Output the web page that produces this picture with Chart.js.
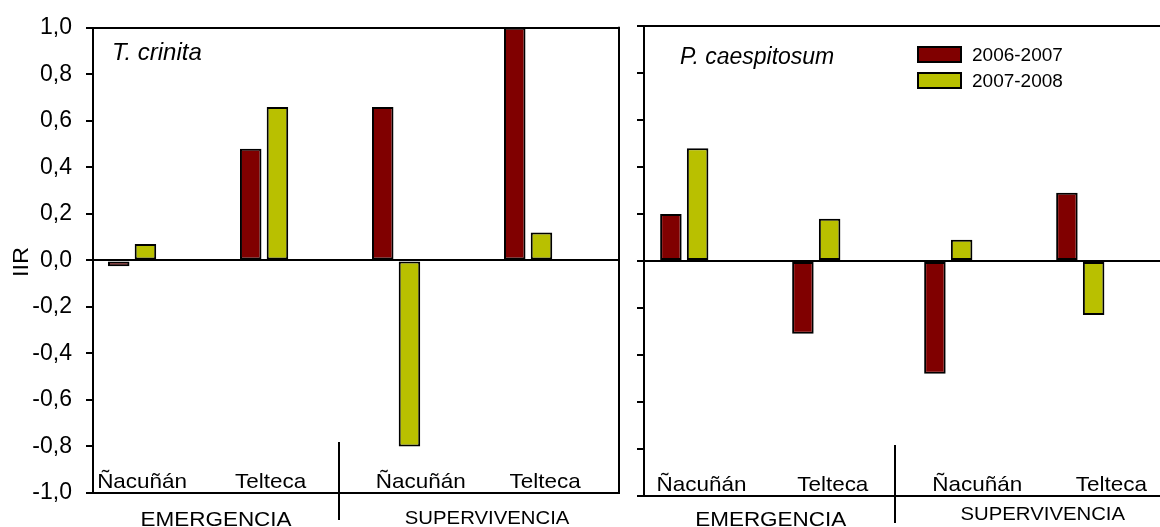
<!DOCTYPE html>
<html>
<head>
<meta charset="utf-8">
<title>IIR</title>
<script src="https://cdn.jsdelivr.net/npm/chart.js@4.4.1/dist/chart.umd.min.js"></script>
<style>
  html, body { margin: 0; padding: 0; background: #fff; overflow: hidden; }
  #wrap { position: relative; width: 1160px; height: 527px; }
  canvas { position: absolute; top: 0; }
  #left { left: 0; }
  #right { left: 630px; }
</style>
</head>
<body>
<div id="wrap">
  <canvas id="left" width="630" height="527"></canvas>
  <canvas id="right" width="530" height="527"></canvas>
</div>
<script>
// sites, stages and seasons
const sites = ['Ñacuñán', 'Telteca', 'Ñacuñán', 'Telteca'];
const stages = ['EMERGENCIA', 'SUPERVIVENCIA'];
const seasons = ['2006-2007', '2007-2008'];
const slots = [1, 2, 3, 4];

// IIR per site / stage
const crinita0607 = [-0.025, 0.48, 0.66, 1.00];
const crinita0708 = [0.07, 0.66, -0.80, 0.12];
const caesp0607 = [0.20, -0.31, -0.48, 0.29];
const caesp0708 = [0.48, 0.18, 0.09, -0.23];

const yTicks = [-1.0, -0.8, -0.6, -0.4, -0.2, 0.0, 0.2, 0.4, 0.6, 0.8, 1.0];

const colors = ['#800000', '#b9c000'];
const FONT = '"Liberation Sans", Arial, sans-serif';
const STRETCH = 1.07;

function fmt(v) {
  if (Math.abs(v) < 1e-9) v = 0;
  return v.toFixed(1).replace('.', ',');
}

function drawText(ctx, text, x, y, size, opts = {}) {
  ctx.save();
  ctx.font = (opts.italic ? 'italic ' : '') + size + 'px ' + FONT;
  ctx.fillStyle = '#000';
  ctx.textAlign = opts.align || 'left';
  ctx.textBaseline = opts.baseline || 'alphabetic';
  ctx.translate(x, y);
  if (opts.rotate) ctx.rotate(opts.rotate);
  ctx.scale(opts.stretch || STRETCH, 1);
  ctx.fillText(text, 0, 0);
  ctx.restore();
}

function line(ctx, x1, y1, x2, y2) {
  ctx.beginPath();
  ctx.moveTo(x1, y1);
  ctx.lineTo(x2, y2);
  ctx.stroke();
}

// frame, site / stage labels, species name, legend
const panelDecor = {
  id: 'panelDecor',
  afterDatasetsDraw(chart, args, o) {
    const { ctx, chartArea: a } = chart;
    const x = chart.scales.x;
    ctx.save();
    ctx.strokeStyle = '#000';
    ctx.lineWidth = 2;
    if (o.rightBorder) line(ctx, a.right - 1, a.top - 1, a.right - 1, a.bottom + 1);
    const dx = Math.round(x.getPixelForValue(o.dividerAt));
    line(ctx, dx, a.bottom - 51, dx, a.bottom + 27);
    ctx.restore();

    sites.forEach((s, i) => {
      drawText(ctx, s, x.getPixelForValue(o.siteAt[i]), a.bottom - 5, 21, { align: 'center' });
    });
    o.stages.forEach((g, i) => {
      drawText(ctx, stages[i], x.getPixelForValue(g.at), a.bottom + g.dy, g.size, { align: 'center' });
    });
    drawText(ctx, o.species, o.speciesPos[0], o.speciesPos[1], o.speciesSize, { italic: true, stretch: 1 });

    if (o.legend) {
      const [lx, ly] = o.legend;
      chart.data.datasets.forEach((ds, i) => {
        const top = ly + i * 26;
        ctx.save();
        ctx.fillStyle = ds.backgroundColor;
        ctx.fillRect(lx, top, 43, 15);
        ctx.strokeStyle = '#000';
        ctx.lineWidth = 2;
        ctx.strokeRect(lx, top, 43, 15);
        ctx.restore();
        drawText(ctx, ds.label, lx + 54, top + 8.5, 19, { baseline: 'middle', stretch: 1 });
      });
    }
    if (o.title) {
      drawText(ctx, o.title, 22, 262, 22, { align: 'center', baseline: 'middle', rotate: -Math.PI / 2 });
    }
  }
};

function series(label, values, color) {
  return {
    label,
    data: slots.map((s, i) => ({ x: s, y: values[i] })),
    backgroundColor: color,
    borderColor: '#000',
    borderWidth: 2,
    borderSkipped: false,
    categoryPercentage: 0.405,
    barPercentage: 0.805
  };
}

function makeChart(id, v0607, v0708, xmin, xmax, axisWidth, pad, decor) {
  return new Chart(document.getElementById(id), {
    type: 'bar',
    data: {
      datasets: [
        series(seasons[0], v0607, colors[0]),
        series(seasons[1], v0708, colors[1])
      ]
    },
    options: {
      responsive: false,
      animation: false,
      layout: { padding: pad },
      scales: {
        x: {
          type: 'linear',
          display: false,
          offset: false,
          min: xmin,
          max: xmax,
          afterBuildTicks: s => { s.ticks = slots.map(v => ({ value: v })); }
        },
        y: {
          min: -1,
          max: 1,
          afterBuildTicks: s => { s.ticks = yTicks.map(v => ({ value: v })); },
          afterFit: s => { s.width = axisWidth; },
          border: { display: true, color: '#000', width: 2 },
          grid: {
            color: c => {
              const v = Math.abs(c.tick.value);
              return (v < 1e-9 || Math.abs(v - 1) < 1e-9) ? '#000' : 'rgba(0,0,0,0)';
            },
            tickColor: '#000',
            lineWidth: 2,
            tickWidth: 2,
            tickLength: 7
          },
          ticks: {
            display: axisWidth > 50,
            padding: 14,
            color: '#000',
            font: { family: FONT, size: 23 },
            callback: v => fmt(v)
          }
        }
      },
      plugins: {
        legend: { display: false },
        tooltip: { enabled: false },
        panelDecor: decor
      }
    },
    plugins: [panelDecor]
  });
}

makeChart('left', crinita0607, crinita0708, 0.704, 4.696, 93,
  { top: 24, bottom: 34, left: 0, right: 10 },
  {
    rightBorder: true,
    dividerAt: 2.567,
    siteAt: [1.076, 2.049, 3.186, 4.129],
    stages: [{ at: 1.636, dy: 33, size: 21 }, { at: 3.689, dy: 31, size: 19 }],
    species: 'T. crinita',
    speciesSize: 24,
    speciesPos: [112, 60],
    title: 'IIR'
  });

makeChart('right', caesp0607, caesp0708, 0.695, 4.604, 14,
  { top: 26, bottom: 31, left: 0, right: 0 },
  {
    rightBorder: false,
    dividerAt: 2.596,
    siteAt: [1.13, 2.125, 3.22, 4.236],
    stages: [{ at: 1.655, dy: 30, size: 21 }, { at: 3.716, dy: 24, size: 19 }],
    species: 'P. caespitosum',
    speciesSize: 23,
    speciesPos: [50, 64],
    legend: [288, 47]
  });
</script>
</body>
</html>
